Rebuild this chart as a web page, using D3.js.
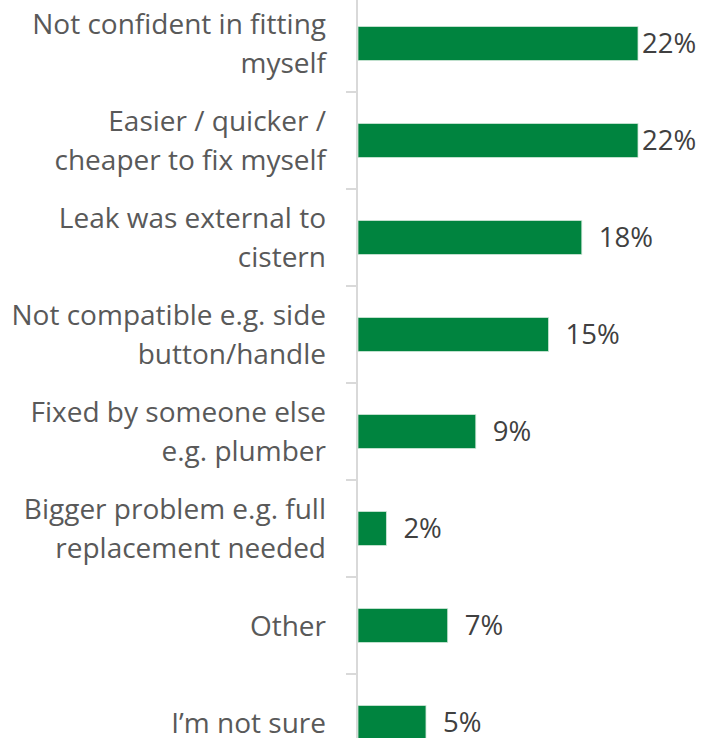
<!DOCTYPE html>
<html>
<head>
<meta charset="utf-8">
<script src="https://cdn.jsdelivr.net/npm/d3@7"></script>
<style>
  html, body { margin: 0; padding: 0; background: #fff; }
  svg { display: block; }
</style>
</head>
<body>
<svg id="chart" width="728" height="738"></svg>
<script>
// Data
const categories = [
  ["Not confident in fitting", "myself"],
  ["Easier / quicker /", "cheaper to fix myself"],
  ["Leak was external to", "cistern"],
  ["Not compatible e.g. side", "button/handle"],
  ["Fixed by someone else", "e.g. plumber"],
  ["Bigger problem e.g. full", "replacement needed"],
  ["Other"],
  ["I\u2019m not sure"]
];
const values = [0.22, 0.22, 0.176, 0.15, 0.093, 0.023, 0.071, 0.054];
const valueLabels = ["22%", "22%", "18%", "15%", "9%", "2%", "7%", "5%"];

const W = 728, H = 738;
const svg = d3.select("#chart");
const FONT = "'Open Sans', 'Liberation Sans', sans-serif";
const FS = 28;
const FSV = 27.5;

const keys = categories.map((c, i) => i);
const y = d3.scaleBand().domain(keys).range([-5, 771]).paddingInner(0.65).paddingOuter(0.325);
const x = d3.scaleLinear().domain([0, 0.22]).range([357, 638]);

const step = y.step();
const bw = y.bandwidth();

// axis line
svg.append("line")
  .attr("x1", x(0)).attr("x2", x(0))
  .attr("y1", 0).attr("y2", H)
  .attr("stroke", "#d9d9d9").attr("stroke-width", 2);

// tick marks at category boundaries
const bounds = keys.map(k => y(k) - step * y.paddingInner() / 2).concat([y(keys.length - 1) + bw + step * y.paddingInner() / 2]);
svg.selectAll("line.tick").data(bounds).enter().append("line")
  .attr("class", "tick")
  .attr("x1", x(0) - 11).attr("x2", x(0))
  .attr("y1", d => d).attr("y2", d => d)
  .attr("stroke", "#d9d9d9").attr("stroke-width", 2);

// bars
svg.selectAll("rect.bar").data(values).enter().append("rect")
  .attr("class", "bar")
  .attr("x", x(0) + 1)
  .attr("y", (d, i) => y(i))
  .attr("width", d => x(d) - x(0) - 1)
  .attr("height", bw)
  .attr("fill", "#00843F")
  .attr("stroke", "#cfe6d7").attr("stroke-width", 0.8);

// value labels
svg.selectAll("text.val").data(values).enter().append("text")
  .attr("class", "val")
  .attr("x", d => Math.min(x(d) + 17, 642))
  .attr("y", (d, i) => y(i) + bw / 2)
  .attr("dy", "0.36em")
  .attr("font-family", FONT)
  .attr("font-size", FSV)
  .attr("fill", "#404040")
  .text((d, i) => valueLabels[i]);

// category labels
const lineH = 38.5;
const cat = svg.selectAll("text.cat").data(categories).enter().append("text")
  .attr("class", "cat")
  .attr("text-anchor", "end")
  .attr("font-family", FONT)
  .attr("font-size", FS)
  .attr("fill", "#595959");
cat.each(function(lines, i) {
  const t = d3.select(this);
  const cy = y(i) + bw / 2;
  const first = cy - (lines.length - 1) * lineH / 2;
  lines.forEach((ln, j) => {
    t.append("tspan")
      .attr("x", 326)
      .attr("y", first + j * lineH)
      .attr("dy", "0.36em")
      .text(ln);
  });
});
</script>
</body>
</html>
